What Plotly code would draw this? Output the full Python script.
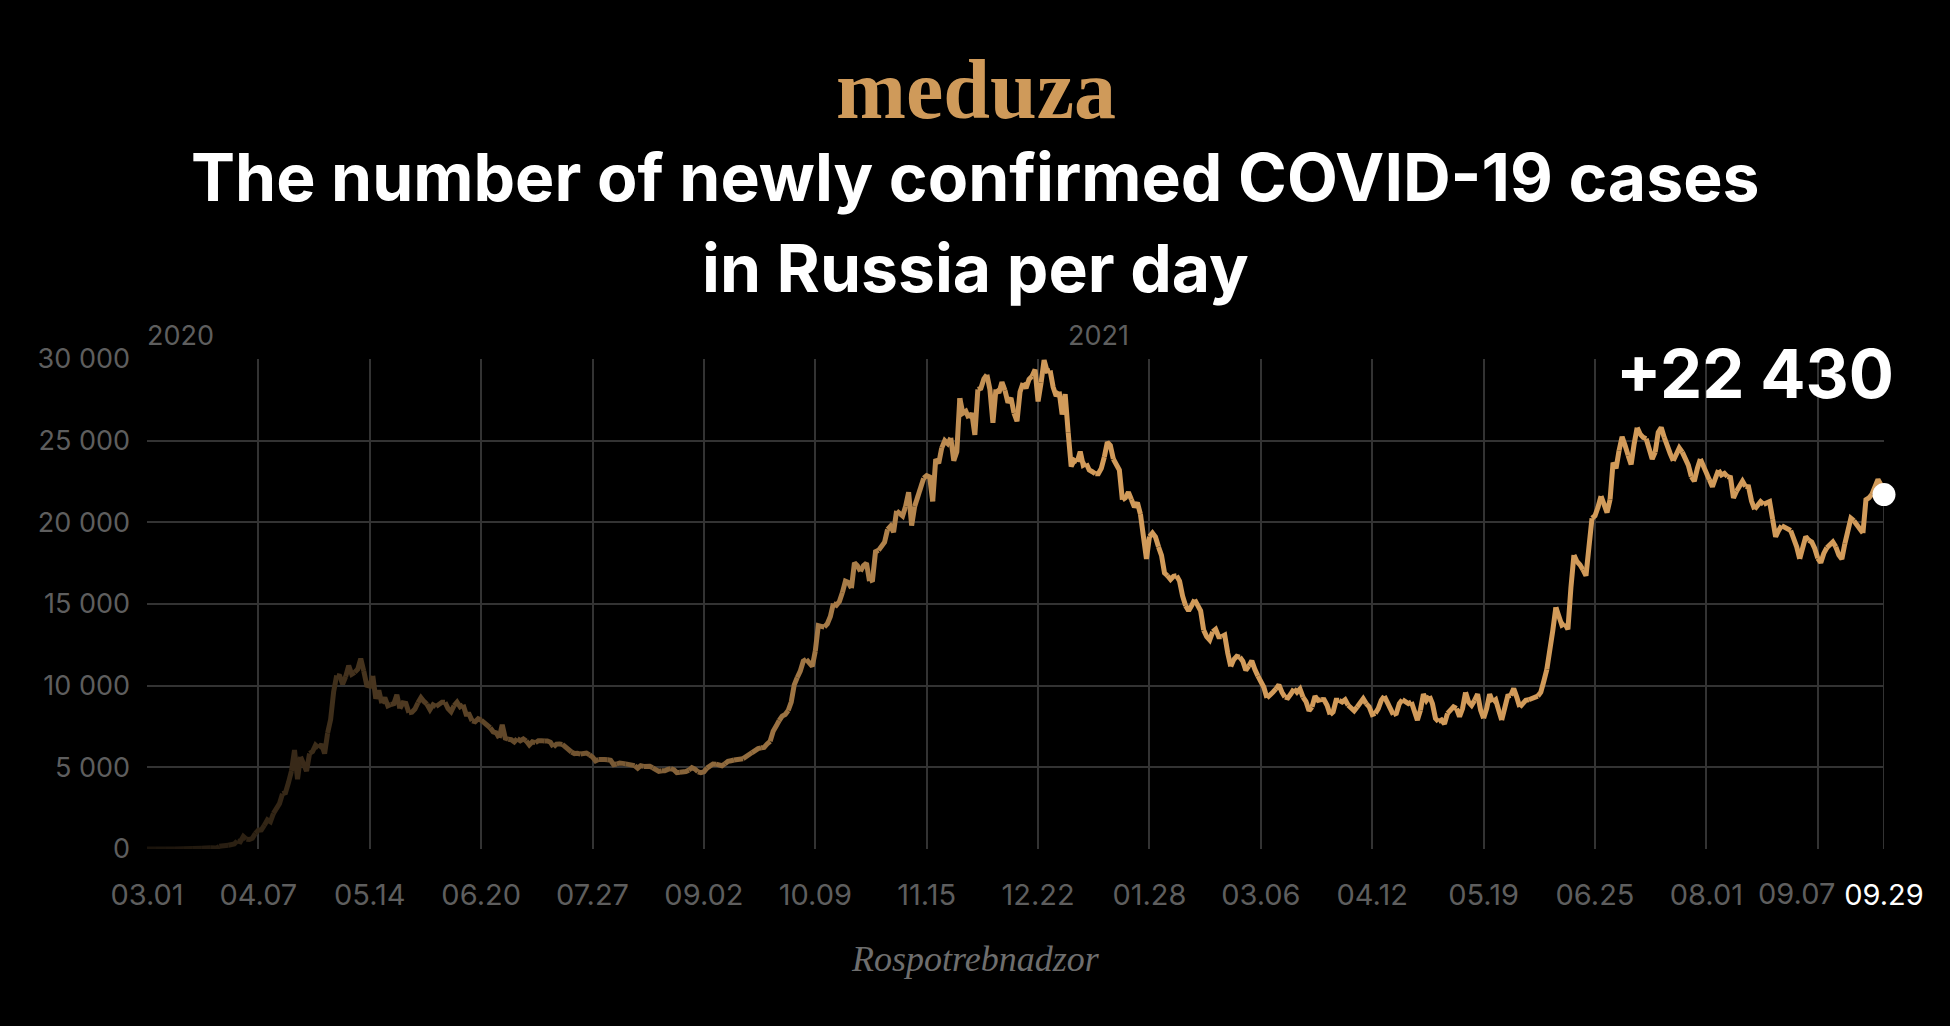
import plotly.graph_objects as go
import pandas as pd

# ---------------- data (daily new cases) ----------------
start_date = "2020-03-01"

mar_2020 = [0, 1, 0, 0, 1, 0, 7, 1, 0, 3, 8, 6, 11, 14, 4, 29, 30, 33, 52, 54, 53, 71, 57, 57,
            163, 182, 196, 228, 270, 302, 500]
apr_2020 = [440, 771, 601, 582, 658, 954, 1154, 1175, 1459, 1786, 1667, 2186, 2558, 2774, 3388,
            3448, 4070, 4785, 6060, 4268, 5642, 5236, 4774, 5849, 5966, 6361, 6198, 6411, 5841, 7099]
may_2020 = [7933, 9623, 10633, 10581, 10102, 10559, 11231, 10699, 10817, 11012, 11656, 10899,
            10028, 9974, 10598, 9200, 9709, 8926, 9263, 8764, 8849, 8894, 9434, 8599, 8946, 8915,
            8338, 8371, 8572, 8952, 9268]
jun_2020 = [9035, 8863, 8536, 8831, 8726, 8855, 8984, 8985, 8595, 8404, 8779, 8987, 8706, 8835,
            8246, 8248, 7843, 7790, 7972, 7889, 7728, 7600, 7425, 7176, 7113, 6800, 7600, 6791,
            6719, 6693]
jul_2020 = [6556, 6760, 6632, 6736, 6611, 6368, 6562, 6509, 6635, 6635, 6611, 6615, 6537, 6248,
            6422, 6428, 6406, 6234, 6109, 5940, 5842, 5862, 5811, 5848, 5871, 5765, 5635, 5395,
            5475, 5509, 5482]
aug_2020 = [5462, 5427, 5159, 5204, 5267, 5241, 5212, 5189, 5118, 5102, 4945, 5102, 5057, 5065,
            5061, 4969, 4839, 4748, 4790, 4785, 4870, 4921, 4852, 4676, 4696, 4711, 4741, 4829,
            4980, 4897, 4729]
sep_2020 = [4670, 4729, 4952, 5110, 5205, 5195, 5185, 5099, 5218, 5363, 5406, 5449, 5488, 5509,
            5529, 5670, 5762, 5905, 6065, 6148, 6196, 6215, 6431, 6595, 7212, 7523, 7867, 8135,
            8232, 8481]
oct_2020 = [9000, 10050, 10500, 10888, 11500, 11615, 11400, 11180, 12126, 13680, 13634, 13592,
            13790, 14231, 15030, 14922, 15150, 15700, 16400, 16319, 15971, 17530, 17340, 17000,
            17347, 17500, 16400, 16474, 18200, 18283, 18500]
nov_2020 = [18780, 19570, 19768, 19404, 20700, 20498, 20396, 20977, 21840, 19800, 20977, 21608,
            22300, 22702, 22860, 22778, 21280, 23870, 23610, 24560, 25000, 24822, 25173, 23770,
            24326, 27600, 26683, 26800, 26380, 26683]
dec_2020 = [25350, 28145, 28209, 28782, 29039, 28137, 26097, 28142, 27927, 28585, 28080, 27328,
            27620, 26689, 26190, 27977, 28530, 28209, 28760, 28948, 29350, 27400, 28552, 29935,
            29258, 29300, 28284, 27730, 28000, 26600, 27850]
jan_2021 = [25500, 23420, 23800, 23700, 24330, 23500, 23600, 23200, 23100, 22970, 22970, 23300,
            24000, 24900, 24700, 23880, 23500, 23200, 21380, 21500, 21840, 21400, 20930, 21200,
            20500, 19300, 17760, 19120, 19340, 19100, 18500]
feb_2021 = [17980, 16900, 16730, 16500, 16700, 16730, 16400, 15490, 14900, 14580, 14900, 15270,
            14900, 14580, 13400, 13000, 12800, 13300, 13450, 13000, 13000, 13100, 12000, 11180,
            11600, 11800, 11750, 11500]
mar_2021 = [10950, 11200, 11520, 11000, 10600, 10270, 9900, 9250, 9400, 9600, 9800, 10050, 9600,
            9300, 9250, 9500, 9800, 9600, 9800, 9300, 9030, 8460, 8700, 9360, 9100, 9150, 9140,
            8800, 8230, 8400, 9100]
apr_2021 = [9100, 9000, 9140, 8800, 8600, 8460, 8700, 9000, 9200, 8900, 8700, 8230, 8300, 8600,
            9100, 9360, 9000, 8700, 8230, 8300, 8900, 9140, 9000, 8900, 9000, 8400, 7890, 8500,
            9480, 9100]
may_2021 = [9360, 8900, 8000, 7800, 7900, 7660, 8300, 8460, 8700, 8600, 8100, 8600, 9590, 9000,
            8800, 9100, 9480, 8500, 8000, 8600, 9480, 9000, 9140, 8500, 7890, 8500, 9360, 9400,
            9820, 9300, 8690]
jun_2021 = [8900, 9100, 9140, 9200, 9300, 9360, 9600, 10270, 11000, 12090, 13400, 14800, 14200,
            13700, 13800, 13450, 16000, 18000, 17600, 17400, 17100, 16730, 18500, 20250, 20400,
            20930, 21600, 21000, 20600, 21400]
jul_2021 = [23650, 23300, 24400, 25240, 24700, 24100, 23540, 24800, 25800, 25400, 25200, 25120,
            24500, 23880, 24300, 25500, 25800, 25200, 24790, 24200, 23770, 24100, 24560, 24300,
            23900, 23500, 22800, 22520, 23300, 23880, 23500]
aug_2021 = [22970, 22600, 22180, 22700, 23200, 22900, 23000, 22800, 22750, 21500, 21900, 22300,
            22520, 22200, 22180, 21300, 20800, 21100, 21270, 21100, 21200, 21270, 20200, 19120,
            19500, 19800, 19700, 19600, 19500, 19000, 18500]
sep_2021 = [17760, 18400, 19120, 18900, 18800, 18400, 17800, 17530, 18100, 18440, 18600, 18800,
            18500, 18000, 17760, 18700, 19600, 20250, 20100, 19800, 19600, 19340, 21380, 21500,
            21720, 22100, 22630, 22290, 21700]

latest_label = "+22 430"

tick_dates = ["2020-03-01", "2020-04-07", "2020-05-14", "2020-06-20", "2020-07-27", "2020-09-02",
              "2020-10-09", "2020-11-15", "2020-12-22", "2021-01-28", "2021-03-06", "2021-04-12",
              "2021-05-19", "2021-06-25", "2021-08-01", "2021-09-07"]
tick_labels = ["03.01", "04.07", "05.14", "06.20", "07.27", "09.02", "10.09", "11.15", "12.22",
               "01.28", "03.06", "04.12", "05.19", "06.25", "08.01", "09.07"]
last_label = "09.29"

y_tickvals = [0, 5000, 10000, 15000, 20000, 25000, 30000]
y_ticklabels = ["0", "5 000", "10 000", "15 000", "20 000", "25 000", "30 000"]

year_labels = ["2020", "2021"]
year_dates = ["2020-03-01", "2021-01-01"]

title_line1 = "The number of newly confirmed COVID-19 cases"
title_line2 = "in Russia per day"
brand = "meduza"
source = "Rospotrebnadzor"

values = (mar_2020 + apr_2020 + may_2020 + jun_2020 + jul_2020 + aug_2020 + sep_2020 +
          oct_2020 + nov_2020 + dec_2020 + jan_2021 + feb_2021 + mar_2021 + apr_2021 +
          may_2021 + jun_2021 + jul_2021 + aug_2021 + sep_2021)
dates = pd.date_range(start_date, periods=len(values), freq="D")

# ---------------- styling ----------------
W, H = 1950, 1026
ML, MR, MT, MB = 147, 66, 359, 177
PW, PH = W - ML - MR, H - MT - MB

def px_x(px):
    return (px - ML) / PW

def px_y(py):
    return (H - MB - py) / PH

GOLD = (210, 155, 90)
GRID = "#333333"
GRAY = "#5e5e5e"
TICK_FONT = "Inter"
TICK_SIZE = 29
TICK_DROP = 44   # px from the x axis down to the centre of the tick labels

def seg_color(day_index):
    a = min(1.0, 0.12 + 0.88 * day_index / 300.0)
    r, g, b = (int(round(c * a)) for c in GOLD)
    return f"rgb({r},{g},{b})"

fig = go.Figure()

# vertical line from the last point down to the axis
fig.add_trace(go.Scatter(
    x=[dates[-1], dates[-1]], y=[0, values[-1]], mode="lines",
    line=dict(color=GRID, width=2), hoverinfo="skip", showlegend=False,
    xaxis="x2", yaxis="y"))

n = len(values)
step = 3
for i in range(0, n - 1, step):
    j = min(i + step, n - 1)
    fig.add_trace(go.Scatter(
        x=dates[i:j + 1], y=values[i:j + 1], mode="lines",
        line=dict(color=seg_color((i + j) / 2), width=5),
        hoverinfo="skip", showlegend=False, xaxis="x", yaxis="y"))

# final dot
fig.add_trace(go.Scatter(
    x=[dates[-1]], y=[values[-1]], mode="markers",
    marker=dict(color="white", size=23, line=dict(width=0)),
    cliponaxis=False, hoverinfo="skip", showlegend=False, xaxis="x2", yaxis="y"))

xrange = [dates[0], dates[-1]]
# the last regular label is drawn as an annotation, nudged left so it clears the final date label
main_text = [lab if k < len(tick_labels) - 1 else "" for k, lab in enumerate(tick_labels)]

fig.update_layout(
    width=W, height=H,
    margin=dict(l=ML, r=MR, t=MT, b=MB, pad=0),
    paper_bgcolor="black", plot_bgcolor="black",
    showlegend=False, hovermode=False,
    xaxis=dict(type="date", range=xrange, tickmode="array", tickvals=tick_dates,
               ticktext=main_text, showgrid=True, gridcolor=GRID, gridwidth=2,
               zeroline=False, showline=False, ticks="",
               tickfont=dict(family=TICK_FONT, size=TICK_SIZE, color=GRAY),
               ticklabelstandoff=26, fixedrange=True),
    xaxis2=dict(type="date", range=xrange, overlaying="x", anchor="y", side="bottom",
                tickmode="array", tickvals=[dates[-1]], ticktext=[last_label],
                showgrid=False, zeroline=False, showline=False, ticks="",
                tickfont=dict(family=TICK_FONT, size=TICK_SIZE, color="white"),
                ticklabelstandoff=26, fixedrange=True),
    yaxis=dict(range=[0, 30000], tickmode="array", tickvals=y_tickvals, ticktext=y_ticklabels,
               showgrid=True, gridcolor=GRID, gridwidth=2, zeroline=False, showline=False,
               ticks="", tickfont=dict(family=TICK_FONT, size=27, color=GRAY),
               ticklabelstandoff=16, fixedrange=True),
)

ann = []
# brand
ann.append(dict(text=f"<b>{brand}</b>", xref="paper", yref="paper", x=px_x(976), y=px_y(89),
                xanchor="center", yanchor="middle", showarrow=False,
                font=dict(family="Liberation Serif", size=84, color="#cf9a5a")))
# title lines
ann.append(dict(text=f"<b>{title_line1}</b>", xref="paper", yref="paper", x=px_x(975),
                y=px_y(177), xanchor="center", yanchor="middle", showarrow=False,
                font=dict(family="Inter", size=66, color="white")))
ann.append(dict(text=f"<b>{title_line2}</b>", xref="paper", yref="paper", x=px_x(975),
                y=px_y(268), xanchor="center", yanchor="middle", showarrow=False,
                font=dict(family="Inter", size=66, color="white")))
# year labels
for lab, d in zip(year_labels, year_dates):
    ann.append(dict(text=lab, xref="x", yref="y", x=d, y=30000, xanchor="left",
                    yanchor="middle", yshift=24, xshift=-2, showarrow=False,
                    font=dict(family=TICK_FONT, size=27, color=GRAY)))
# last regular date label (09.07), nudged left
ann.append(dict(text=tick_labels[-1], xref="x", yref="y", x=tick_dates[-1], y=0,
                xanchor="center", yanchor="middle", xshift=-21, yshift=-TICK_DROP,
                showarrow=False, font=dict(family=TICK_FONT, size=TICK_SIZE, color=GRAY)))
# latest value label
ann.append(dict(text=f"<b>{latest_label}</b>", xref="x", yref="y", x=dates[-1], y=30000,
                xanchor="right", yanchor="middle", xshift=12, yshift=-14, showarrow=False,
                font=dict(family="Inter", size=67, color="white")))
# source
ann.append(dict(text=f"<i>{source}</i>", xref="paper", yref="paper", x=px_x(975),
                y=px_y(959), xanchor="center", yanchor="middle", showarrow=False,
                font=dict(family="Liberation Serif", size=36, color="#6e6e6e")))

fig.update_layout(annotations=ann)

fig.write_html(
    "out.html",
    config={"displayModeBar": False},
    post_script=("document.body.style.margin='0';document.body.style.padding='0';"
                 "document.body.style.background='black';"
                 "document.documentElement.style.background='black';"),
)
